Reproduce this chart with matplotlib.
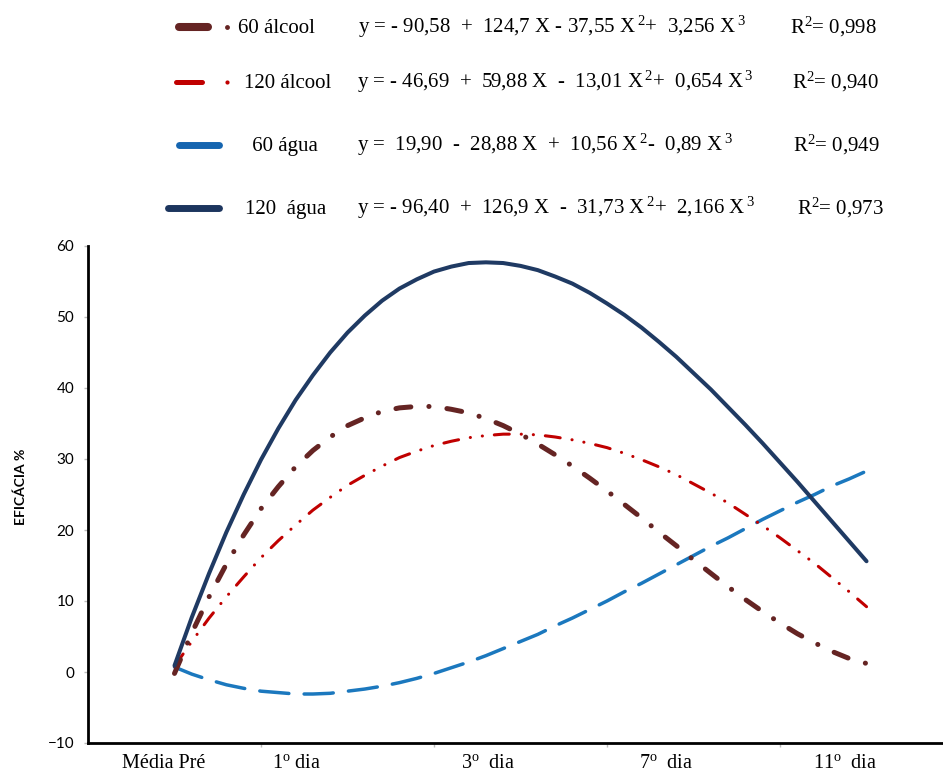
import matplotlib.pyplot as plt
from matplotlib.lines import Line2D

plt.rcParams['mathtext.fontset'] = 'custom'
plt.rcParams['mathtext.rm'] = 'Liberation Serif'
plt.rcParams['mathtext.it'] = 'Liberation Serif:italic'
plt.rcParams['mathtext.bf'] = 'Liberation Serif:bold'
plt.rcParams['lines.scale_dashes'] = False

x_vals = [1.0, 1.1, 1.2, 1.3, 1.4, 1.5, 1.6, 1.7, 1.8, 1.9,
          2.0, 2.1, 2.2, 2.3, 2.4, 2.5, 2.6, 2.7, 2.8, 2.9,
          3.0, 3.1, 3.2, 3.3, 3.4, 3.5, 3.6, 3.7, 3.8, 3.9,
          4.0, 4.1, 4.2, 4.3, 4.4, 4.5, 4.6, 4.7, 4.8, 4.9, 5.0]
alcool_60 = [-0.2, 5.5, 10.6, 15.2, 19.3, 23.0, 26.1, 28.9, 31.2, 33.1,
             34.7, 35.8, 36.7, 37.2, 37.4, 37.4, 37.0, 36.5, 35.7, 34.7,
             33.5, 32.1, 30.6, 29.0, 27.3, 25.5, 23.6, 21.7, 19.7, 17.8,
             15.8, 13.9, 12.0, 10.2, 8.5, 6.9, 5.4, 4.1, 2.9, 1.9, 1.2]
alcool_120 = [0.8, 4.3, 7.6, 10.6, 13.4, 16.1, 18.5, 20.7, 22.8, 24.6,
              26.3, 27.7, 29.0, 30.2, 31.1, 31.9, 32.5, 33.0, 33.3, 33.5,
              33.5, 33.4, 33.1, 32.7, 32.2, 31.6, 30.8, 29.9, 28.9, 27.8,
              26.5, 25.2, 23.8, 22.2, 20.6, 18.9, 17.1, 15.3, 13.3, 11.3, 9.2]
agua_60 = [0.7, -0.3, -1.1, -1.8, -2.3, -2.7, -2.9, -3.1, -3.1, -3.0,
           -2.7, -2.4, -2.0, -1.5, -0.9, -0.2, 0.6, 1.4, 2.3, 3.3,
           4.3, 5.3, 6.5, 7.6, 8.8, 10.0, 11.3, 12.5, 13.8, 15.1,
           16.4, 17.7, 18.9, 20.2, 21.5, 22.7, 23.9, 25.0, 26.2, 27.2, 28.3]
agua_120 = [0.9, 7.7, 13.9, 19.7, 25.0, 29.9, 34.3, 38.3, 41.8, 45.0,
            47.8, 50.2, 52.3, 54.0, 55.3, 56.4, 57.1, 57.6, 57.7, 57.6,
            57.2, 56.6, 55.7, 54.7, 53.4, 51.9, 50.3, 48.5, 46.5, 44.4,
            42.1, 39.8, 37.3, 34.8, 32.2, 29.5, 26.8, 24.0, 21.2, 18.4, 15.6]

tick_labels = ['Média Pré', '1$^{\\mathrm{o}}$ dia', '3$^{\\mathrm{o}}$  dia',
               '7$^{\\mathrm{o}}$  dia', '11$^{\\mathrm{o}}$  dia']
tick_pos = [0.94, 1.705, 2.815, 3.844, 4.879]

names = ['60 álcool', '120 álcool', ' 60 água', '120  água']
equations = [
    'y = - 90,58  +  124,7 X - 37,55 X$\\,^{2}$+  3,256 X$\\,^{3}$',
    'y = - 46,69  +  59,88 X  -  13,01 X$\\,^{2}$+  0,654 X$\\,^{3}$',
    'y =  19,90  -  28,88 X  +  10,56 X$\\,^{2}$-  0,89 X$\\,^{3}$',
    'y = - 96,40  +  126,9 X  -  31,73 X$\\,^{2}$+  2,166 X$\\,^{3}$',
]
r2 = ['0,998', '0,940', '0,949', '0,973']

c_brown = '#652423'
c_red = '#C00000'
c_blue = '#1B78BE'
c_navy = '#1F3A63'

fig = plt.figure(figsize=(9.43, 7.78), dpi=100)
ax = fig.add_axes([88 / 943, 35 / 778, 855 / 943, 497 / 778])

ax.plot(x_vals, agua_60, color=c_blue, lw=2.5, dashes=(21, 11),
        dash_capstyle='round')
ax.plot(x_vals, alcool_120, color=c_red, lw=2.2,
        dashes=(10.8, 8.6, 0.1, 8.6, 0.1, 8.6), dash_capstyle='round')
ax.plot(x_vals, alcool_60, color=c_brown, lw=3.6,
        dashes=(10.8, 13, 0.1, 13), dash_capstyle='round')
ax.plot(x_vals, agua_120, color=c_navy, lw=2.9, solid_capstyle='round')

ax.set_xlim(0.5, 5.442)
ax.set_ylim(-10, 60)
for s in ['top', 'right']:
    ax.spines[s].set_visible(False)
for s in ['left', 'bottom']:
    ax.spines[s].set_linewidth(2)
    ax.spines[s].set_color('black')

ax.set_yticks(range(-10, 61, 10))
ax.tick_params(axis='y', length=3, width=1, color='#BBBBBB', pad=7,
               labelsize=11)
for lab in ax.get_yticklabels():
    lab.set_fontfamily('Lato')

ax.set_xticks(tick_pos)
ax.set_xticklabels(tick_labels, fontfamily='Liberation Serif', fontsize=14.5)
ax.set_xticks([1.5, 2.5, 3.5, 4.5], minor=True)
ax.tick_params(axis='x', which='major', length=0, pad=8)
ax.tick_params(axis='x', which='minor', length=3, width=1, color='#BBBBBB')

fig.text(21 / 943, 1 - 487 / 778, 'EFICÁCIA %', rotation=90, ha='center',
         va='center', fontfamily='Lato', fontweight='bold', fontsize=10)

# legend drawn by hand, in pixel coordinates of the figure
lax = fig.add_axes([0, 0, 1, 1])
lax.set_xlim(0, 943)
lax.set_ylim(778, 0)
lax.set_axis_off()

row_y = [27, 82, 145, 208]
bar_x = [(179, 208), (176, 202), (179, 219), (168, 219)]
bar_w = [5.8, 3.6, 5.0, 5.0]
bar_c = [c_brown, c_red, '#1565B0', '#1C355E']
name_x = [238, 244, 247, 245]
eq_x = [358, 357, 357, 357]
r2_x = [790, 792, 793, 797]

for i in range(4):
    y = row_y[i]
    lax.add_line(Line2D(bar_x[i], [y, y], lw=bar_w[i], color=bar_c[i],
                        solid_capstyle='round'))
    if i < 2:
        lax.plot([227], [y], marker='o', ms=3.5 if i == 0 else 3,
                 color=bar_c[i], mec='none')
    lax.text(name_x[i], y + 6, names[i], fontfamily='Liberation Serif',
             fontsize=15, va='baseline')
    lax.text(eq_x[i], y + 6, equations[i], fontfamily='Liberation Serif',
             fontsize=15, va='baseline')
    lax.text(r2_x[i], y + 6, 'R$^{2}$= ' + r2[i], fontfamily='Liberation Serif',
             fontsize=15, va='baseline')

fig.savefig('out.png', dpi=100)
